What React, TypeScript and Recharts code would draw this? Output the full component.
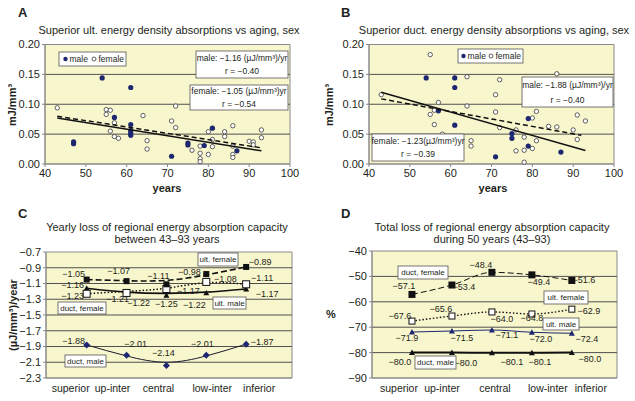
import React from 'react';
import { ComposedChart, Scatter, Line, XAxis, YAxis, ReferenceArea, ReferenceLine } from 'recharts';

const FONT = '"Liberation Sans", Arial, Helvetica, sans-serif';
const TXT = '#231f20';
const PLOT_BG = '#f8f6cc';
const GRID = '#505050';
const BORDER = '#8a8a8a';
const NAVY = '#1d2670';

// ---------- Panel A: superior ultimate energy density vs age ----------
const maleA: [number, number][] = [
  [54, 0.144], [61, 0.128], [57, 0.078], [61, 0.066], [61, 0.056], [61, 0.052], [61, 0.048],
  [47, 0.037], [47, 0.034], [71, 0.013], [75, 0.035], [75, 0.032], [79, 0.031], [81, 0.06], [87, 0.022],
];
const femaleA: [number, number][] = [
  [43, 0.094], [55, 0.091], [56, 0.09], [55, 0.083], [57, 0.069], [56, 0.055], [57, 0.046], [58, 0.043],
  [64, 0.081], [65, 0.039], [65, 0.025], [71, 0.072], [72, 0.097], [72, 0.061], [76, 0.023], [78, 0.03],
  [78, 0.018], [78, 0.009], [78, 0.004], [80, 0.016], [80, 0.054], [81, 0.041], [81, 0.029], [84, 0.054],
  [84, 0.046], [86, 0.064], [86, 0.03], [86, 0.016], [86, 0.011], [90, 0.038], [91, 0.037], [91, 0.032],
  [93, 0.057], [93, 0.044],
];
const maleFitA: [number, number][] = [[43, 0.077], [93, 0.022]];
const femaleFitA: [number, number][] = [[43, 0.08], [93, 0.027]];

// ---------- Panel B: superior ductility energy density vs age ----------
const maleB: [number, number][] = [
  [54, 0.144], [61, 0.144], [61, 0.128], [57, 0.089], [61, 0.065], [71, 0.012], [75, 0.051],
  [75, 0.043], [79, 0.076], [79, 0.03], [87, 0.02],
];
const femaleB: [number, number][] = [
  [43, 0.116], [55, 0.183], [57, 0.103], [56, 0.09], [55, 0.083], [56, 0.066], [58, 0.05], [64, 0.146],
  [64, 0.097], [65, 0.039], [65, 0.03], [71, 0.116], [71, 0.087], [72, 0.141], [72, 0.061], [76, 0.057],
  [76, 0.022], [78, 0.045], [78, 0.023], [78, 0.003], [80, 0.077], [80, 0.026], [81, 0.088], [81, 0.039],
  [84, 0.063], [86, 0.062], [86, 0.151], [90, 0.057], [91, 0.082], [91, 0.041], [93, 0.072],
];
const maleFitB: [number, number][] = [[43, 0.12], [93, 0.0225]];
const femaleFitB: [number, number][] = [[43, 0.109], [92, 0.048]];

const yearTicks = [40, 50, 60, 70, 80, 90, 100];
const densityTicks = [0, 0.05, 0.1, 0.15, 0.2];

// ---------- Panels C & D ----------
const categories = ['superior', 'up-inter', 'central', 'low-inter', 'inferior'];

const ultFemaleC = [-1.05, -1.07, -1.11, -0.98, -0.89];
const ultMaleC = [-1.16, -1.21, -1.25, -1.22, -1.17];
const ductFemaleC = [-1.23, -1.22, -1.17, -1.08, -1.11];
const ductMaleC = [-1.88, -2.01, -2.14, -2.01, -1.87];
// trend curves as drawn in the figure
const ultFemaleTrendC = [-1.05, -1.065, -1.06, -0.99, -0.89];
const ultMaleTrendC = [-1.16, -1.21, -1.225, -1.21, -1.17];
const ductFemaleTrendC = [-1.23, -1.2, -1.16, -1.09, -1.11];
const ductMaleTrendC = [-1.88, -2.02, -2.1, -2.02, -1.87];
const yearlyTicks = [-2.3, -2.1, -1.9, -1.7, -1.5, -1.3, -1.1, -0.9, -0.7];

const ductFemaleD = [-57.1, -53.4, -48.4, -49.4, -51.6];
const ultFemaleD = [-67.6, -65.6, -64.0, -64.8, -62.9];
const ultMaleD = [-71.9, -71.5, -71.1, -72.0, -72.4];
const ductMaleD = [-80.0, -80.0, -80.1, -80.1, -80.0];
const percentTicks = [-90, -80, -70, -60, -50, -40];

// label placement (style only)
const offUfC: [number, number][] = [[-13, -6], [-8, -10], [-8, -8], [-17, -2], [14, -5]];
const offUmC: [number, number][] = [[-14, -3], [-9, 7], [0, 9], [-12, 12], [21, 5]];
const offDfC: [number, number][] = [[-14, 2], [12, 10], [22, 2], [19, -3], [16, -6]];
const offDmC: [number, number][] = [[-13, -4], [9, -11], [-3, -12], [-4, -11], [16, -2]];
const offDfD: [number, number][] = [[-8, -8], [12, 2], [-11, -7], [7, 7], [12, 0]];
const offUfD: [number, number][] = [[-12, -5], [-11, -7], [10, 7], [0, 4], [17, 2]];
const offUmD: [number, number][] = [[-5, 6], [10, 7], [15, 5], [9, 7], [15, 6]];
const offDmD: [number, number][] = [[-12, 9], [14, 10], [20, 9], [8, 9], [18, 6]];
const catOffC = [-16, -14, -8, 6, 13];
const catOffD = [-13, -10, 3, 16, 19];

const fmt = (v: number, d: number) => v.toFixed(d).replace('-', '\u2212');
const toXY = (arr: [number, number][]) => arr.map(([x, y]) => ({ x, y }));

const dotFilled = (p: any) => <circle cx={p.cx} cy={p.cy} r={2.6} fill={NAVY} />;
const dotOpen = (p: any) => <circle cx={p.cx} cy={p.cy} r={2.2} fill="#fff" stroke="#3a3a3a" strokeWidth={0.8} />;
const noShape = () => <g />;

function ScatterPanel(props: any) {
  const { left, width, plotLeft, plotRight, male, female, maleFit, femaleFit } = props;
  return (
    <div style={{ position: 'absolute', left, top: 0 }}>
      <ComposedChart width={width} height={200} margin={{ top: 44.5, right: width - plotRight, bottom: 6, left: 0 }}>
        <XAxis type="number" dataKey="x" domain={[40, 100]} ticks={yearTicks} interval={0} height={30}
          tickSize={3} tickMargin={2} stroke={BORDER} tick={{ fontSize: 11, fill: TXT }} />
        <YAxis type="number" dataKey="y" domain={[0, 0.2]} ticks={densityTicks} interval={0} width={plotLeft}
          tickSize={3} tickMargin={2} stroke={BORDER} tick={{ fontSize: 11, fill: TXT }}
          tickFormatter={(v: number) => v.toFixed(2)} />
        <ReferenceArea x1={40} x2={100} y1={0} y2={0.2} fill={PLOT_BG} fillOpacity={1} stroke={BORDER} />
        {densityTicks.slice(1, -1).map((v) => <ReferenceLine key={v} y={v} stroke={GRID} strokeWidth={1} />)}
        <Scatter data={toXY(female)} shape={dotOpen} isAnimationActive={false} />
        <Scatter data={toXY(male)} shape={dotFilled} isAnimationActive={false} />
        <Scatter data={toXY(femaleFit)} shape={noShape} line={{ stroke: '#111', strokeWidth: 1.5, strokeDasharray: '5 3' }} isAnimationActive={false} />
        <Scatter data={toXY(maleFit)} shape={noShape} line={{ stroke: '#111', strokeWidth: 1.5 }} isAnimationActive={false} />
      </ComposedChart>
    </div>
  );
}

function drawMarker(kind: string, s: number, color: string, cx: number, cy: number) {
  const h = s / 2;
  if (kind === 'square') return <rect x={cx - h} y={cy - h} width={s} height={s} fill={color} />;
  if (kind === 'open') return <rect x={cx - h} y={cy - h} width={s} height={s} fill="#fff" stroke={color} strokeWidth={1} />;
  if (kind === 'tri') return <polygon points={`${cx},${cy - h} ${cx + h},${cy + h * 0.8} ${cx - h},${cy + h * 0.8}`} fill={color} />;
  return <polygon points={`${cx},${cy - h} ${cx + h},${cy} ${cx},${cy + h} ${cx - h},${cy}`} fill={color} />;
}

const makeDot = (kind: string, s: number, color: string, vals: number[], d: number, offs: [number, number][]) => (p: any) => {
  const { cx, cy, index } = p;
  if (cx == null || cy == null) return <g key={`e${index}`} />;
  return (
    <g key={`${kind}${index}`}>
      {drawMarker(kind, s, color, cx, cy)}
      <text x={cx + offs[index][0]} y={cy + offs[index][1]} textAnchor="middle" dominantBaseline="central"
        fontSize={9} fill={TXT}>{fmt(vals[index], d)}</text>
    </g>
  );
};

const makeCatTick = (offs: number[]) => (p: any) => {
  const { x, y, payload } = p;
  const i = payload.value;
  return (
    <text x={x + offs[i]} y={y} dy="0.71em" textAnchor="middle" fontSize={10.5} fill={TXT}>{categories[i]}</text>
  );
};

function PanelC() {
  const rows = categories.map((c, i) => ({
    i, uf: ultFemaleC[i], um: ultMaleC[i], df: ductFemaleC[i], dm: ductMaleC[i],
    ufT: ultFemaleTrendC[i], umT: ultMaleTrendC[i], dfT: ductFemaleTrendC[i], dmT: ductMaleTrendC[i],
  }));
  return (
    <div style={{ position: 'absolute', left: 0, top: 200 }}>
      <ComposedChart width={310} height={201} data={rows} margin={{ top: 52, right: 18, bottom: 3, left: 0 }}>
        <XAxis type="number" dataKey="i" domain={[-1.02, 5.15]} ticks={[0, 1, 2, 3, 4]} interval={0} height={20}
          tickSize={5} tickMargin={2} tickLine={false} stroke={BORDER} tick={makeCatTick(catOffC)} />
        <YAxis type="number" domain={[-2.3, -0.7]} ticks={yearlyTicks} interval={0} width={46}
          tickSize={3} tickMargin={2} stroke={BORDER} tick={{ fontSize: 11, fill: TXT }}
          tickFormatter={(v: number) => fmt(v, 1)} />
        <ReferenceArea x1={-1.02} x2={5.15} y1={-2.3} y2={-0.7} fill={PLOT_BG} fillOpacity={1} stroke={BORDER} />
        {yearlyTicks.slice(1, -1).map((v) => <ReferenceLine key={v} y={v} stroke={GRID} strokeWidth={1} />)}
        <Line dataKey="dmT" type="natural" stroke="#1a1a2e" strokeWidth={1} dot={false} isAnimationActive={false} />
        <Line dataKey="umT" type="natural" stroke="#111" strokeWidth={1.6} dot={false} isAnimationActive={false} />
        <Line dataKey="dfT" type="natural" stroke="#111" strokeWidth={1.5} strokeDasharray="1.5 2" dot={false} isAnimationActive={false} />
        <Line dataKey="ufT" type="natural" stroke="#111" strokeWidth={1.6} strokeDasharray="6 3" dot={false} isAnimationActive={false} />
        <Line dataKey="dm" stroke="none" dot={makeDot('diamond', 7, NAVY, ductMaleC, 2, offDmC)} isAnimationActive={false} />
        <Line dataKey="um" stroke="none" dot={makeDot('tri', 6, '#111', ultMaleC, 2, offUmC)} isAnimationActive={false} />
        <Line dataKey="df" stroke="none" dot={makeDot('open', 7, '#111', ductFemaleC, 2, offDfC)} isAnimationActive={false} />
        <Line dataKey="uf" stroke="none" dot={makeDot('square', 6, '#111', ultFemaleC, 2, offUfC)} isAnimationActive={false} />
      </ComposedChart>
    </div>
  );
}

function PanelD() {
  const rows = categories.map((c, i) => ({ i, df: ductFemaleD[i], uf: ultFemaleD[i], um: ultMaleD[i], dm: ductMaleD[i] }));
  return (
    <div style={{ position: 'absolute', left: 315, top: 200 }}>
      <ComposedChart width={320} height={201} data={rows} margin={{ top: 51, right: 18, bottom: 3, left: 0 }}>
        <XAxis type="number" dataKey="i" domain={[-1, 5.13]} ticks={[0, 1, 2, 3, 4]} interval={0} height={20}
          tickSize={5} tickMargin={2} tickLine={false} stroke={BORDER} tick={makeCatTick(catOffD)} />
        <YAxis type="number" domain={[-90, -40]} ticks={percentTicks} interval={0} width={57}
          tickSize={3} tickMargin={2} stroke={BORDER} tick={{ fontSize: 11, fill: TXT }}
          tickFormatter={(v: number) => fmt(v, 0)} />
        <ReferenceArea x1={-1} x2={5.13} y1={-90} y2={-40} fill={PLOT_BG} fillOpacity={1} stroke={BORDER} />
        {percentTicks.slice(1, -1).map((v) => <ReferenceLine key={v} y={v} stroke={GRID} strokeWidth={1} />)}
        <Line dataKey="dm" type="monotone" stroke="#111" strokeWidth={2}
          dot={makeDot('tri', 6, '#111', ductMaleD, 1, offDmD)} isAnimationActive={false} />
        <Line dataKey="um" type="monotone" stroke={NAVY} strokeWidth={1}
          dot={makeDot('tri', 6, NAVY, ultMaleD, 1, offUmD)} isAnimationActive={false} />
        <Line dataKey="uf" type="monotone" stroke="#111" strokeWidth={1.4} strokeDasharray="1.5 2"
          dot={makeDot('open', 6, '#111', ultFemaleD, 1, offUfD)} isAnimationActive={false} />
        <Line dataKey="df" type="monotone" stroke="#111" strokeWidth={1} strokeDasharray="6 3"
          dot={makeDot('square', 7, '#111', ductFemaleD, 1, offDfD)} isAnimationActive={false} />
      </ComposedChart>
    </div>
  );
}

function Box(props: { x: number; y: number; w: number; h: number; lines: string[]; fs?: number }) {
  const { x, y, w, h, lines, fs = 8.5 } = props;
  const lh = h / lines.length;
  return (
    <g>
      <rect x={x} y={y} width={w} height={h} fill="#fff" stroke="#555" strokeWidth={0.8} />
      {lines.map((t, k) => (
        <text key={k} x={x + w / 2} y={y + lh * (k + 0.5)} textAnchor="middle" dominantBaseline="central" fontSize={fs} fill={TXT}>{t}</text>
      ))}
    </g>
  );
}

function Overlay() {
  const bold = { fontWeight: 700 } as const;
  return (
    <svg width={635} height={401} style={{ position: 'absolute', left: 0, top: 0, pointerEvents: 'none' }}>
      <text x={18} y={17} fontSize={13} style={bold} fill={TXT}>A</text>
      <text x={341} y={17} fontSize={13} style={bold} fill={TXT}>B</text>
      <text x={18} y={218} fontSize={13} style={bold} fill={TXT}>C</text>
      <text x={341} y={218} fontSize={13} style={bold} fill={TXT}>D</text>

      <text x={169} y={34} textAnchor="middle" fontSize={11} fill={TXT}>Superior ult. energy density absorptions vs aging, sex</text>
      <text x={494} y={34} textAnchor="middle" fontSize={11} fill={TXT}>Superior duct. energy density absorptions vs aging, sex</text>
      <text x={167} y={231} textAnchor="middle" fontSize={11} fill={TXT}>Yearly loss of regional energy absorption capacity</text>
      <text x={167} y={243} textAnchor="middle" fontSize={11} fill={TXT}>between 43–93 years</text>
      <text x={492} y={231} textAnchor="middle" fontSize={11} fill={TXT}>Total loss of regional energy absorption capacity</text>
      <text x={492} y={243} textAnchor="middle" fontSize={11} fill={TXT}>during 50 years (43–93)</text>

      <text transform="translate(12,105) rotate(-90)" textAnchor="middle" dominantBaseline="central" fontSize={11} style={bold} fill={TXT}>mJ/mm³</text>
      <text transform="translate(329,105) rotate(-90)" textAnchor="middle" dominantBaseline="central" fontSize={11} style={bold} fill={TXT}>mJ/mm³</text>
      <text transform="translate(13,315) rotate(-90)" textAnchor="middle" dominantBaseline="central" fontSize={11} style={bold} fill={TXT}>(µJ/mm³)/year</text>
      <text x={331} y={314} textAnchor="middle" dominantBaseline="central" fontSize={11} style={bold} fill={TXT}>%</text>
      <text x={167} y={188} textAnchor="middle" dominantBaseline="central" fontSize={11} style={bold} fill={TXT}>years</text>
      <text x={493} y={188} textAnchor="middle" dominantBaseline="central" fontSize={11} style={bold} fill={TXT}>years</text>

      {/* legends */}
      <rect x={59} y={52} width={67} height={14} fill="#fff" stroke="#555" strokeWidth={0.8} />
      <circle cx={65.5} cy={59} r={2.2} fill={NAVY} />
      <text x={69.5} y={59} dominantBaseline="central" fontSize={8.5} fill={TXT}>male</text>
      <circle cx={94} cy={59} r={2} fill="#fff" stroke="#3a3a3a" strokeWidth={0.8} />
      <text x={98.5} y={59} dominantBaseline="central" fontSize={8.5} fill={TXT}>female</text>

      <rect x={458} y={49} width={65} height={14} fill="#fff" stroke="#555" strokeWidth={0.8} />
      <circle cx={463.5} cy={56} r={2.2} fill={NAVY} />
      <text x={467.5} y={56} dominantBaseline="central" fontSize={8.5} fill={TXT}>male</text>
      <circle cx={491} cy={56} r={2} fill="#fff" stroke="#3a3a3a" strokeWidth={0.8} />
      <text x={495.5} y={56} dominantBaseline="central" fontSize={8.5} fill={TXT}>female</text>

      <Box x={196} y={51} w={92} h={27} lines={['male: −1.16 (µJ/mm³)/yr', 'r = −0.40']} />
      <Box x={190} y={85} w={98} h={25} lines={['female: −1.05 (µJ/mm³)yr', 'r = −0.54']} />
      <Box x={522} y={77} w={91} h={30} lines={['male: −1.88 (µJ/mm³)/yr', 'r = −0.40']} />
      <Box x={372} y={134} w={92} h={27} lines={['female: −1.23(µJ/mm³)yr', 'r = −0.39']} />

      <Box x={198} y={253} w={40} h={13} lines={['ult. female']} fs={8} />
      <Box x={213} y={297} w={33} h={12} lines={['ult. male']} fs={8} />
      <Box x={58} y={302} w={48} h={12} lines={['duct, female']} fs={8} />
      <Box x={65} y={355} w={41} h={12} lines={['duct, male']} fs={8} />

      <Box x={398} y={266} w={50} h={13} lines={['duct, female']} fs={8} />
      <Box x={544} y={291} w={44} h={13} lines={['ult. female']} fs={8} />
      <Box x={543} y={318} w={36} h={12} lines={['ult. male']} fs={8} />
      <Box x={415} y={356} w={41} h={13} lines={['duct, male']} fs={8} />
    </svg>
  );
}

export default function App() {
  return (
    <div style={{ position: 'absolute', left: 0, top: 0, width: 635, height: 401, background: '#fff', fontFamily: FONT, overflow: 'hidden' }}>
      <ScatterPanel left={0} width={315} plotLeft={45} plotRight={290} male={maleA} female={femaleA} maleFit={maleFitA} femaleFit={femaleFitA} />
      <ScatterPanel left={315} width={320} plotLeft={54} plotRight={299} male={maleB} female={femaleB} maleFit={maleFitB} femaleFit={femaleFitB} />
      <PanelC />
      <PanelD />
      <Overlay />
    </div>
  );
}
